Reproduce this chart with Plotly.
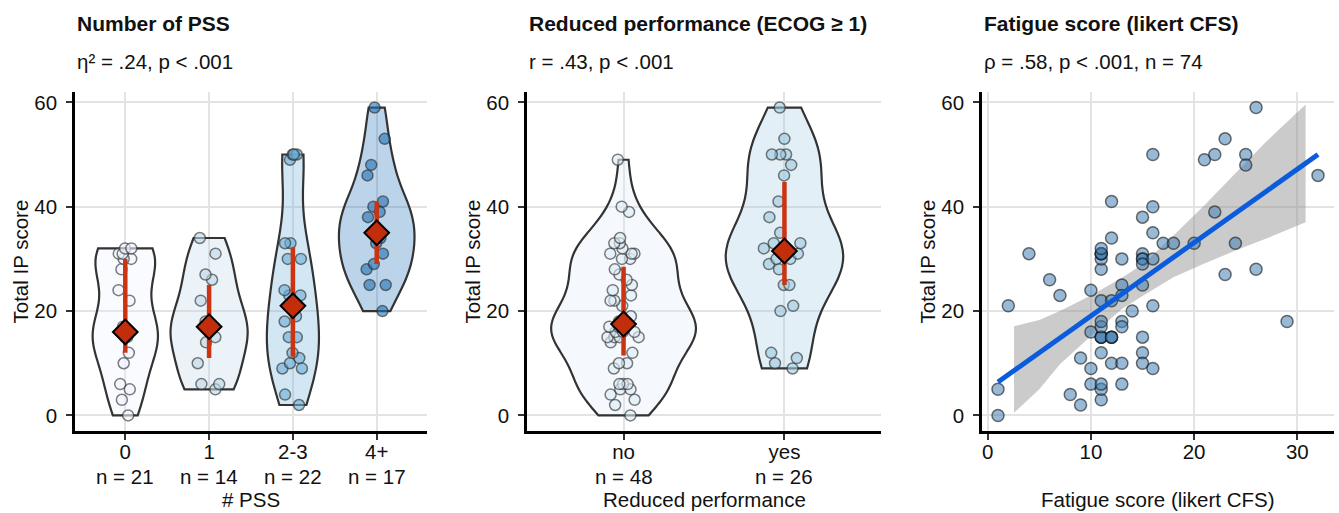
import numpy as np
import plotly.graph_objects as go

# ---------------- data ----------------
# Panel 1: Total IP score by number of PSS
pss_labels = ["0", "1", "2-3", "4+"]
ip_pss_0 = [0, 3, 5, 6, 10, 12, 15, 15, 16, 16, 16, 17, 22, 24, 28, 30, 30, 31, 31, 32, 32]
ip_pss_1 = [5, 6, 6, 10, 14, 15, 17, 17, 18, 22, 26, 27, 31, 34]
ip_pss_23 = [2, 4, 9, 9, 10, 11, 12, 15, 15, 18, 19, 23, 23, 24, 30, 30, 33, 33, 49, 50, 50, 50]
ip_pss_4p = [20, 25, 25, 28, 29, 31, 33, 34, 35, 38, 39, 40, 41, 46, 48, 53, 59]

# Panel 2: Total IP score by reduced performance
perf_labels = ["no", "yes"]
ip_perf_no = [0, 2, 3, 4, 5, 5, 6, 6, 6, 9, 10, 10, 12, 14, 15, 15, 15, 15, 16, 16, 16, 17, 17, 17,
              18, 18, 19, 21, 22, 22, 23, 24, 25, 26, 27, 28, 30, 30, 31, 31, 31, 32, 33, 33, 34, 39, 40, 49]
ip_perf_yes = [9, 10, 11, 12, 20, 21, 25, 25, 28, 29, 30, 30, 31, 32, 33, 33, 35, 38, 41, 46, 48, 50, 50, 50, 53, 59]

# Panel 3: fatigue score vs Total IP score
fatigue = [1, 1, 2, 4, 6, 7, 8, 9, 9, 10, 10, 10, 10,
           11, 11, 11, 11, 11, 11, 11, 11, 11, 11, 11, 11, 11, 11, 11, 11,
           12, 12, 12, 12, 12, 12, 12,
           13, 13, 13, 13, 13, 13, 13,
           14,
           15, 15, 15, 15, 15, 15, 15, 15, 15,
           16, 16, 16, 16, 16, 16,
           17, 18, 20, 21, 22, 22, 23, 23, 24, 25, 25, 26, 26, 29, 32]
ip_total = [0, 5, 21, 31, 26, 23, 4, 2, 11, 9, 6, 24, 16,
            3, 5, 6, 12, 15, 15, 15, 17, 18, 22, 28, 30, 31, 31, 31, 32,
            41, 34, 22, 15, 15, 15, 10,
            30, 25, 23, 18, 17, 10, 6,
            20,
            38, 31, 30, 30, 29, 25, 15, 12, 10,
            50, 40, 35, 30, 21, 9,
            33, 33, 33, 49, 50, 39, 53, 27, 33, 50, 48, 59, 28, 18, 46]

# linear fit line and its confidence band
fit_x = [1, 32]
fit_y = [6.4, 50.0]
band_x = [2.55, 5, 7, 10, 13, 15, 18, 21, 24, 27, 30.8]
band_lo = [0.5, 5.0, 9.8, 15.2, 20.4, 22.9, 26.5, 29.1, 31.6, 33.9, 37.0]
band_hi = [17.1, 18.3, 20.0, 23.0, 26.4, 28.9, 34.5, 40.3, 46.4, 52.5, 59.6]

titles = ["Number of PSS", "Reduced performance (ECOG \u2265 1)", "Fatigue score (likert CFS)"]
subtitles = ["\u03b7\u00b2 = .24, p &lt; .001", "r = .43, p &lt; .001", "\u03c1 = .58, p &lt; .001, n = 74"]
x_titles = ["# PSS", "Reduced performance", "Fatigue score (likert CFS)"]
y_title = "Total IP score"

# ---------------- styling ----------------
W, H = 1339, 513
FONT = "Liberation Sans, Arial, sans-serif"
FS = 20.5
plot_top, plot_bot = 90.5, 430.5
panels_px = [(75, 427), (527, 881), (982, 1334)]

pss_colors = ["239,243,255", "189,215,231", "107,174,214", "33,113,181"]
perf_colors = ["222,235,247", "158,202,225"]
pss_widths = [0.78, 0.92, 0.62, 0.90]
perf_widths = [0.90, 0.73]

DIAMOND = "#C22E0C"
BAR = "#CC3311"


def nrd0(v):
    v = np.asarray(v, float)
    sd = v.std(ddof=1)
    iqr = np.percentile(v, 75) - np.percentile(v, 25)
    lo = min(sd, iqr / 1.34) if iqr > 0 else sd
    return 0.9 * lo * len(v) ** -0.2


fig = go.Figure()


def add_group_panel(groups, colors, widths, jit_half, xa, ya):
    meds, q1s, q3s, pos = [], [], [], []
    for i, (vals, col, w) in enumerate(zip(groups, colors, widths)):
        p = i + 1
        fig.add_trace(go.Violin(
            x=[p] * len(vals), y=vals, orientation="v", width=w,
            bandwidth=nrd0(vals), spanmode="hard", scalemode="width",
            fillcolor=f"rgba({col},0.30)", line=dict(color="#333333", width=2.2),
            points="all", pointpos=0, jitter=min(1.0, 2 * jit_half / w),
            marker=dict(size=11, color=f"rgba({col},0.6)",
                        line=dict(color="rgba(40,40,40,0.6)", width=1.5)),
            box_visible=False, meanline_visible=False, showlegend=False,
            xaxis=xa, yaxis=ya, hoverinfo="y"))
        a = np.asarray(vals, float)
        meds.append(float(np.median(a)))
        q1s.append(float(np.percentile(a, 25)))
        q3s.append(float(np.percentile(a, 75)))
        pos.append(p)
    meds = np.array(meds); q1s = np.array(q1s); q3s = np.array(q3s)
    fig.add_trace(go.Scatter(
        x=pos, y=meds, mode="markers",
        marker=dict(symbol="diamond", size=19, color=DIAMOND, line=dict(color="black", width=2)),
        error_y=dict(type="data", symmetric=False, array=q3s - meds, arrayminus=meds - q1s,
                     width=0, thickness=4.5, color=BAR),
        showlegend=False, xaxis=xa, yaxis=ya, hoverinfo="y"))


add_group_panel([ip_pss_0, ip_pss_1, ip_pss_23, ip_pss_4p], pss_colors, pss_widths, 0.16, "x", "y")
add_group_panel([ip_perf_no, ip_perf_yes], perf_colors, perf_widths, 0.15, "x2", "y2")

# panel 3
fig.add_trace(go.Scatter(
    x=band_x + band_x[::-1], y=band_hi + band_lo[::-1], fill="toself",
    fillcolor="rgba(140,140,140,0.45)", line=dict(width=0), mode="lines",
    showlegend=False, xaxis="x3", yaxis="y3", hoverinfo="skip"))
fig.add_trace(go.Scatter(
    x=fatigue, y=ip_total, mode="markers",
    marker=dict(size=12, color="rgba(70,130,180,0.55)", line=dict(color="rgba(20,20,20,0.6)", width=1.5)),
    showlegend=False, xaxis="x3", yaxis="y3"))
fig.add_trace(go.Scatter(
    x=fit_x, y=fit_y, mode="lines", line=dict(color="#0A5CDD", width=5),
    showlegend=False, xaxis="x3", yaxis="y3", hoverinfo="skip"))

axis_common = dict(
    showline=True, linecolor="black", linewidth=2.5, mirror=False,
    ticks="outside", ticklen=6, tickwidth=2, tickcolor="#333333",
    showgrid=True, gridcolor="#E3E3E3", gridwidth=1.6, zeroline=False,
    tickfont=dict(family=FONT, size=FS, color="#111111"), fixedrange=True,
)

ydom = [1 - plot_bot / H, 1 - plot_top / H]
n_groups = [[len(g) for g in [ip_pss_0, ip_pss_1, ip_pss_23, ip_pss_4p]],
            [len(g) for g in [ip_perf_no, ip_perf_yes]]]

layout = dict(
    width=W, height=H, margin=dict(l=0, r=0, t=0, b=0),
    paper_bgcolor="white", plot_bgcolor="white", showlegend=False,
    violinmode="overlay", font=dict(family=FONT, size=FS, color="#111111"),
)
xcfg = [
    dict(range=[0.4, 4.6], tickmode="array", tickvals=[1, 2, 3, 4], ticktext=pss_labels),
    dict(range=[0.4, 2.6], tickmode="array", tickvals=[1, 2], ticktext=perf_labels),
    dict(range=[-0.55, 33.55], tickmode="array", tickvals=[0, 10, 20, 30]),
]
for i, ((l, r), xc) in enumerate(zip(panels_px, xcfg)):
    sfx = "" if i == 0 else str(i + 1)
    xa = dict(axis_common); xa.update(xc)
    xa.update(domain=[l / W, r / W], anchor="y" + sfx, ticklabelstandoff=-5)
    ya = dict(axis_common)
    ya.update(domain=ydom, anchor="x" + sfx, range=[-2.95, 61.95], tickmode="array",
              tickvals=[0, 20, 40, 60], ticklabelstandoff=5)
    layout["xaxis" + sfx] = xa
    layout["yaxis" + sfx] = ya

annotations = []
for i, (l, r) in enumerate(panels_px):
    sfx = "" if i == 0 else str(i + 1)
    annotations.append(dict(text=f"<b>{titles[i]}</b>", x=l / W, y=1 - 22 / H, xref="paper", yref="paper",
                            xanchor="left", yanchor="middle", showarrow=False,
                            font=dict(family=FONT, size=21, color="#111111")))
    annotations.append(dict(text=subtitles[i], x=l / W, y=1 - 60 / H, xref="paper", yref="paper",
                            xanchor="left", yanchor="middle", showarrow=False,
                            font=dict(family=FONT, size=FS, color="#111111")))
    annotations.append(dict(text=x_titles[i], x=(l + r) / 2 / W, y=1 - 499 / H, xref="paper", yref="paper",
                            xanchor="center", yanchor="middle", showarrow=False,
                            font=dict(family=FONT, size=FS, color="#111111")))
    annotations.append(dict(text=y_title, x=(l - 55) / W, y=1 - (plot_top + plot_bot) / 2 / H,
                            xref="paper", yref="paper", xanchor="center", yanchor="middle",
                            textangle=-90, showarrow=False,
                            font=dict(family=FONT, size=FS, color="#111111")))
    if i < 2:
        for k, n in enumerate(n_groups[i]):
            annotations.append(dict(text=f"n = {n}", x=k + 1, xref="x" + sfx, y=1 - 476.5 / H, yref="paper",
                                    xanchor="center", yanchor="middle", showarrow=False,
                                    font=dict(family=FONT, size=FS, color="#111111")))
layout["annotations"] = annotations

fig.update_layout(**layout)
fig.write_html("out.html")
